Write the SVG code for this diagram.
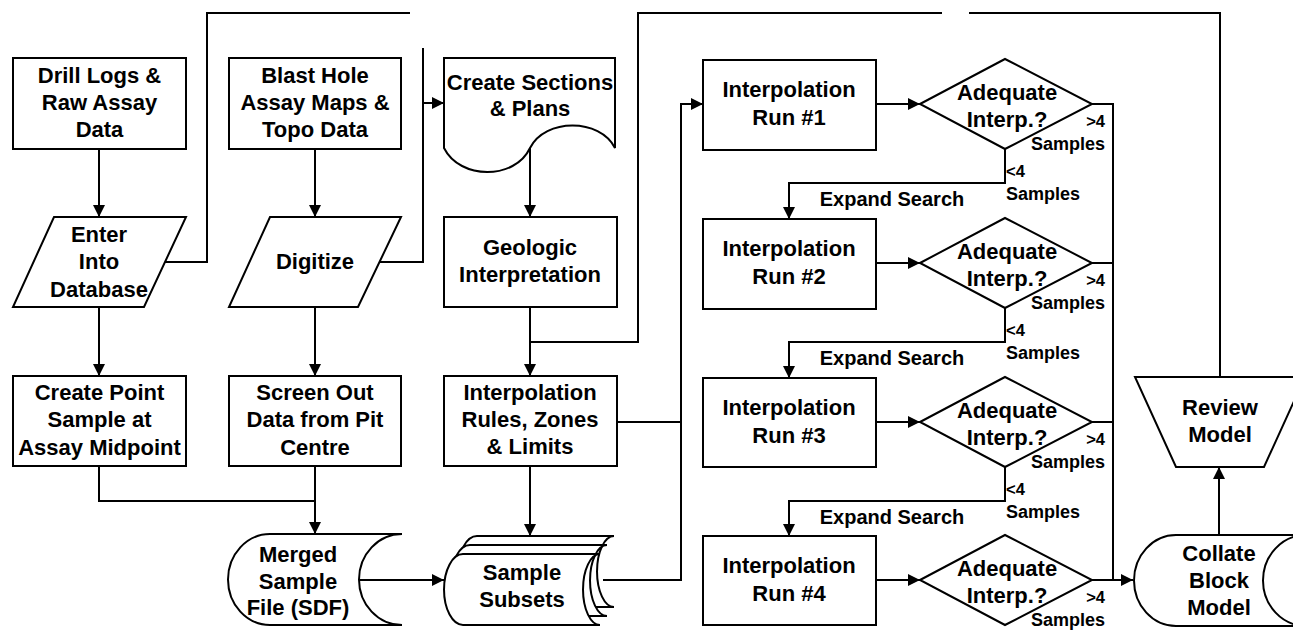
<svg xmlns="http://www.w3.org/2000/svg" width="1293" height="631" viewBox="0 0 1293 631">
<style>
.s{fill:#fff;stroke:#000;stroke-width:2}
.c{fill:none;stroke:#000;stroke-width:2}
.a{marker-end:url(#ah)}
text{font-family:"Liberation Sans",Arial,sans-serif;font-weight:bold;font-size:22px;text-anchor:middle;fill:#000}
.l{font-size:18px}
.n{font-size:16.5px}
.e{font-size:20px}
.r{text-anchor:end}
.st{text-anchor:start}
</style>
<defs>
<marker id="ah" viewBox="0 0 12 12" refX="12" refY="6" markerWidth="12" markerHeight="12" markerUnits="userSpaceOnUse" orient="auto">
<path d="M0,0 L12,6 L0,12 Z" fill="#000"/>
</marker>
</defs>
<rect width="1293" height="631" fill="#fff"/>
<g id="connectors">
<path class="c a" d="M99,149 V217"/>
<path class="c" d="M165,262 H207 V13 H410"/>
<path class="c a" d="M315,149 V217"/>
<path class="c" d="M380,262 H423 V48"/>
<path class="c a" d="M423,103 H444"/>
<path class="c a" d="M530,147 V217"/>
<path class="c a" d="M530,307 V376"/>
<path class="c" d="M1220,377 V13 H969"/>
<path class="c" d="M942,13 H638 V342 H530"/>
<path class="c a" d="M99,307 V376"/>
<path class="c a" d="M315,307 V376"/>
<path class="c" d="M99,466 V501 H315"/>
<path class="c a" d="M315,466 V534"/>
<path class="c a" d="M358,580 H444"/>
<path class="c a" d="M530,466 V536"/>
<path class="c" d="M617,422 H681"/>
<path class="c a" d="M603,580 H681 V104 H703"/>
<path class="c a" d="M876,104 H920"/>
<path class="c a" d="M876,263 H920"/>
<path class="c a" d="M876,422 H920"/>
<path class="c a" d="M876,580 H920"/>
<path class="c" d="M1092,104 H1113 V580"/>
<path class="c" d="M1092,263 H1113"/>
<path class="c" d="M1092,422 H1113"/>
<path class="c a" d="M1092,580 H1133"/>
<path class="c a" d="M1005,149 V183 H789 V219"/>
<path class="c a" d="M1005,308 V342 H789 V378"/>
<path class="c a" d="M1005,467 V501 H789 V536"/>
<path class="c a" d="M1219,535 V467"/>
</g>
<g id="drill">
<rect class="s" x="13" y="58" width="173" height="91"/>
<text x="99.5" y="83">Drill Logs &amp;</text>
<text x="99.5" y="110">Raw Assay</text>
<text x="99.5" y="137">Data</text>
</g>
<g id="blast">
<rect class="s" x="229" y="58" width="172" height="91"/>
<text x="315" y="83">Blast Hole</text>
<text x="315" y="110">Assay Maps &amp;</text>
<text x="315" y="137">Topo Data</text>
</g>
<g id="enter">
<polygon class="s" points="54,217 186,217 144,307 13,307"/>
<text x="99" y="242">Enter</text>
<text x="99" y="269">Into</text>
<text x="99" y="297">Database</text>
</g>
<g id="digitize">
<polygon class="s" points="270,217 401,217 358,307 229,307"/>
<text x="315" y="269">Digitize</text>
</g>
<g id="createpoint">
<rect class="s" x="13" y="376" width="173" height="90"/>
<text x="99.5" y="400">Create Point</text>
<text x="99.5" y="427">Sample at</text>
<text x="99.5" y="455">Assay Midpoint</text>
</g>
<g id="screenout">
<rect class="s" x="229" y="376" width="172" height="90"/>
<text x="315" y="400">Screen Out</text>
<text x="315" y="427">Data from Pit</text>
<text x="315" y="455">Centre</text>
</g>
<g id="merged">
<path class="s" d="M270,534 L402,534 A43,45.5 0 0 0 402,625 L270,625 A42,45.5 0 0 1 270,534 Z"/>
<text x="298" y="562">Merged</text>
<text x="298" y="589">Sample</text>
<text x="298" y="615">File (SDF)</text>
</g>
<g id="sections">
<path class="s" d="M444,58 L615,58 L615,148 C600,118 545,118 530,148 C515,180 460,180 444,148 Z"/>
<text x="530" y="90">Create Sections</text>
<text x="530" y="116">&amp; Plans</text>
</g>
<g id="geologic">
<rect class="s" x="444" y="217" width="173" height="90"/>
<text x="530" y="255">Geologic</text>
<text x="530" y="282">Interpretation</text>
</g>
<g id="rules">
<rect class="s" x="444" y="376" width="173" height="90"/>
<text x="530" y="400">Interpolation</text>
<text x="530" y="427">Rules, Zones</text>
<text x="530" y="454">&amp; Limits</text>
</g>
<g id="subsets">
<path class="s" transform="translate(14,-18)" d="M463,554 L600,554 A17,35.5 0 0 0 600,625 L463,625 A19,35.5 0 0 1 463,554 Z"/>
<path class="s" transform="translate(7,-9)" d="M463,554 L600,554 A17,35.5 0 0 0 600,625 L463,625 A19,35.5 0 0 1 463,554 Z"/>
<path class="s" d="M463,554 L600,554 A17,35.5 0 0 0 600,625 L463,625 A19,35.5 0 0 1 463,554 Z"/>
<text x="522" y="580">Sample</text>
<text x="522" y="607">Subsets</text>
</g>
<g id="run1">
<rect class="s" x="703" y="60" width="173" height="90"/>
<text x="789" y="97">Interpolation</text>
<text x="789" y="125">Run #1</text>
</g>
<g id="run2">
<rect class="s" x="703" y="219" width="173" height="90"/>
<text x="789" y="256">Interpolation</text>
<text x="789" y="284">Run #2</text>
</g>
<g id="run3">
<rect class="s" x="703" y="378" width="173" height="89"/>
<text x="789" y="415">Interpolation</text>
<text x="789" y="443">Run #3</text>
</g>
<g id="run4">
<rect class="s" x="703" y="536" width="173" height="89"/>
<text x="789" y="573">Interpolation</text>
<text x="789" y="601">Run #4</text>
</g>
<g id="dec1">
<polygon class="s" points="920,104 1005,59 1092,104 1005,149"/>
<text x="1007" y="100">Adequate</text>
<text x="1007" y="127">Interp.?</text>
</g>
<g id="dec2">
<polygon class="s" points="920,263 1005,218 1092,263 1005,308"/>
<text x="1007" y="259">Adequate</text>
<text x="1007" y="286">Interp.?</text>
</g>
<g id="dec3">
<polygon class="s" points="920,422 1005,377 1092,422 1005,467"/>
<text x="1007" y="418">Adequate</text>
<text x="1007" y="445">Interp.?</text>
</g>
<g id="dec4">
<polygon class="s" points="920,580 1005,535 1092,580 1005,625"/>
<text x="1007" y="576">Adequate</text>
<text x="1007" y="603">Interp.?</text>
</g>
<g id="labels">
<text class="n r" x="1105" y="127">&gt;4</text>
<text class="l r" x="1105" y="150">Samples</text>
<text class="n st" x="1006" y="177">&lt;4</text>
<text class="l st" x="1006" y="200">Samples</text>
<text class="e" x="892" y="206">Expand Search</text>
<text class="n r" x="1105" y="286">&gt;4</text>
<text class="l r" x="1105" y="309">Samples</text>
<text class="n st" x="1006" y="336">&lt;4</text>
<text class="l st" x="1006" y="359">Samples</text>
<text class="e" x="892" y="365">Expand Search</text>
<text class="n r" x="1105" y="445">&gt;4</text>
<text class="l r" x="1105" y="468">Samples</text>
<text class="n st" x="1006" y="495">&lt;4</text>
<text class="l st" x="1006" y="518">Samples</text>
<text class="e" x="892" y="524">Expand Search</text>
<text class="n r" x="1105" y="603">&gt;4</text>
<text class="l r" x="1105" y="626">Samples</text>
</g>
<g id="review">
<polygon class="s" points="1135,377 1305,377 1264,467 1176,467"/>
<text x="1220" y="415">Review</text>
<text x="1220" y="442">Model</text>
</g>
<g id="collate">
<path class="s" d="M1176,535 L1306,535 A43,45.5 0 0 0 1306,626 L1176,626 A42,45.5 0 0 1 1176,535 Z"/>
<text x="1219" y="561">Collate</text>
<text x="1219" y="588">Block</text>
<text x="1219" y="615">Model</text>
</g>
</svg>
